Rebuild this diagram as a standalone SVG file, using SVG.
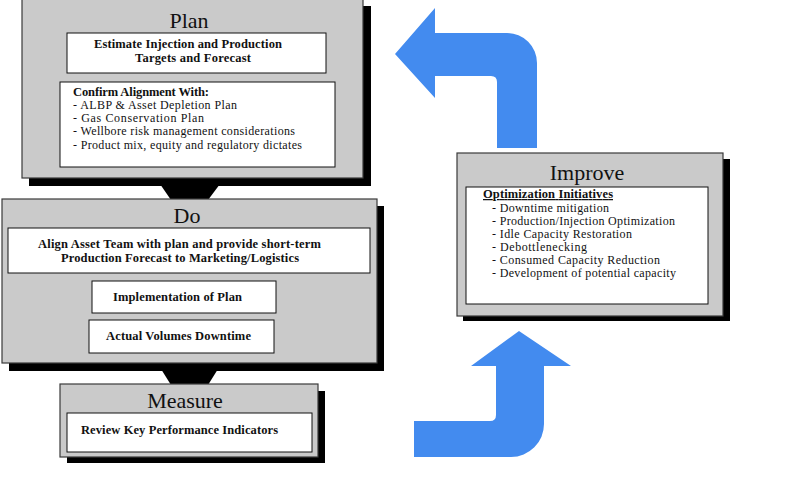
<svg xmlns="http://www.w3.org/2000/svg" width="789" height="479" viewBox="0 0 789 479">
<style>
.shadow{fill:#000}
.panel{fill:#cacaca;stroke:#3a3a3a;stroke-width:1.2}
.inner{fill:#fff;stroke:#111;stroke-width:1}
.title{font-family:"Liberation Serif",serif;font-size:22px;fill:#111;text-anchor:middle}
.b{font-family:"Liberation Serif",serif;font-size:12.5px;font-weight:bold;fill:#111}
.r{font-family:"Liberation Serif",serif;font-size:12px;fill:#111}
.arrow{fill:#438bef}
.link{fill:#000}
</style>
<rect width="789" height="479" fill="#fff"/>
<g id="connectors">
<polygon class="link" points="160,184 220,184 208,200 171,200"/>
<polygon class="link" points="161,369 218,369 208,385 171,385"/>
<path class="arrow" d="M395,54 L435,8 L435,33 L507,33 A30,30 0 0 1 537,63 L537,148 L497,148 L497,82 Q497,76 491,76 L435,76 L435,98 Z"/>
<path class="arrow" d="M519,331 L571,366 L544,366 L544,424 A33,33 0 0 1 511,457 L414,457 L414,421 L490,421 Q496,421 496,415 L496,366 L471,366 Z"/>
</g>
<g id="plan">
<rect class="shadow" x="29" y="6" width="342" height="180"/>
<rect class="panel" x="22" y="-1" width="341" height="179"/>
<text class="title" x="189" y="28">Plan</text>
<rect class="inner" x="67" y="33" width="259" height="40"/>
<text class="b" x="94" y="48" textLength="188" lengthAdjust="spacing">Estimate Injection and Production</text>
<text class="b" x="135" y="62" textLength="116" lengthAdjust="spacing">Targets and Forecast</text>
<rect class="inner" x="60" y="82" width="275" height="85"/>
<text class="b" x="73" y="96" textLength="136" lengthAdjust="spacing">Confirm Alignment With:</text>
<text class="r" x="73" y="109" textLength="164" lengthAdjust="spacing">- ALBP &amp; Asset Depletion Plan</text>
<text class="r" x="73" y="122" textLength="131" lengthAdjust="spacing">- Gas Conservation Plan</text>
<text class="r" x="73" y="135" textLength="222" lengthAdjust="spacing">- Wellbore risk management considerations</text>
<text class="r" x="73" y="149" textLength="229" lengthAdjust="spacing">- Product mix, equity and regulatory dictates</text>
</g>
<g id="do">
<rect class="shadow" x="9" y="206" width="375" height="165"/>
<rect class="panel" x="2" y="199" width="375" height="164"/>
<text class="title" x="187" y="223">Do</text>
<rect class="inner" x="8" y="228" width="362" height="45"/>
<text class="b" x="38" y="248" textLength="283" lengthAdjust="spacing">Align Asset Team with plan and provide short-term</text>
<text class="b" x="61" y="262" textLength="238" lengthAdjust="spacing">Production Forecast to Marketing/Logistics</text>
<rect class="inner" x="92" y="281" width="184" height="32"/>
<text class="b" x="113" y="301" textLength="129" lengthAdjust="spacing">Implementation of Plan</text>
<rect class="inner" x="89" y="320" width="185" height="33"/>
<text class="b" x="106" y="340" textLength="145" lengthAdjust="spacing">Actual Volumes Downtime</text>
</g>
<g id="measure">
<rect class="shadow" x="67" y="391" width="258" height="72"/>
<rect class="panel" x="60" y="384" width="258" height="73"/>
<text class="title" x="185" y="408">Measure</text>
<rect class="inner" x="67" y="413" width="245" height="39"/>
<text class="b" x="81" y="434" textLength="197" lengthAdjust="spacing">Review Key Performance Indicators</text>
</g>
<g id="improve">
<rect class="shadow" x="463" y="159" width="267" height="162"/>
<rect class="panel" x="457" y="153" width="266" height="163"/>
<text class="title" x="587" y="180">Improve</text>
<rect class="inner" x="466" y="187" width="242" height="117"/>
<text class="b" x="483" y="198" textLength="130" lengthAdjust="spacing" text-decoration="underline">Optimization Initiatives</text>
<text class="r" x="492" y="212" textLength="117" lengthAdjust="spacing">- Downtime mitigation</text>
<text class="r" x="492" y="225" textLength="183" lengthAdjust="spacing">- Production/Injection Optimization</text>
<text class="r" x="492" y="238" textLength="140" lengthAdjust="spacing">- Idle Capacity Restoration</text>
<text class="r" x="492" y="251" textLength="95" lengthAdjust="spacing">-  Debottlenecking</text>
<text class="r" x="492" y="264" textLength="168" lengthAdjust="spacing">- Consumed Capacity Reduction</text>
<text class="r" x="492" y="277" textLength="184" lengthAdjust="spacing">- Development of potential capacity</text>
</g>
</svg>
